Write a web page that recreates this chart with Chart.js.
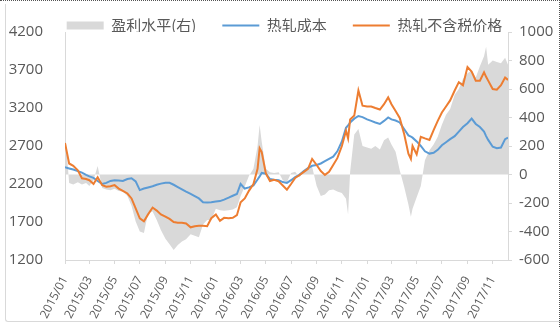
<!DOCTYPE html>
<html>
<head>
<meta charset="utf-8">
<script src="https://cdn.jsdelivr.net/npm/chart.js@4/dist/chart.umd.min.js"></script>
<style>
  html, body { margin: 0; padding: 0; background: #fff; }
  #wrap { position: relative; width: 560px; height: 327px; overflow: hidden; }
  #frame { position: absolute; left: 5px; top: 4px; width: 600px; height: 318px;
           border-left: 1px solid #d9d9d9; border-bottom: 1px solid #d9d9d9;
           border-bottom-left-radius: 3px; box-sizing: border-box; }
  #edge { position: absolute; left: 0; top: 0; width: 560px; height: 327px; box-sizing: border-box;
          border-top: 1px dotted #555; border-right: 1px dotted #555; pointer-events: none; }
  canvas { position: absolute; left: 0; top: 0; }
</style>
</head>
<body>
<div id="wrap">
  <div id="frame"></div>
  <canvas id="chart" width="560" height="327"></canvas>
  <div id="edge"></div>
</div>
<script>
// Hot-rolled coil: cost, ex-tax price (left axis, 元/吨) and profit margin (right axis)
const dates = [
  '2015/01/01','2015/01/11','2015/01/21','2015/02/01','2015/02/11','2015/02/21',
  '2015/03/01','2015/03/11','2015/03/21','2015/04/01','2015/04/11','2015/04/21',
  '2015/05/01','2015/05/11','2015/05/21','2015/06/01','2015/06/11','2015/06/21',
  '2015/07/01','2015/07/11','2015/07/21','2015/08/01','2015/08/11','2015/08/21',
  '2015/09/01','2015/09/11','2015/09/21','2015/10/01','2015/10/11','2015/10/21',
  '2015/11/01','2015/11/11','2015/11/21','2015/12/01','2015/12/11','2015/12/21',
  '2016/01/01','2016/01/11','2016/01/21','2016/02/01','2016/02/11','2016/02/21',
  '2016/03/01','2016/03/11','2016/03/21','2016/04/01','2016/04/11','2016/04/16','2016/04/21',
  '2016/05/01','2016/05/11','2016/05/21','2016/06/01','2016/06/11','2016/06/21',
  '2016/07/01','2016/07/11','2016/07/21','2016/08/01','2016/08/11','2016/08/21',
  '2016/09/01','2016/09/11','2016/09/21','2016/10/01','2016/10/11','2016/10/21',
  '2016/11/01','2016/11/11','2016/11/16','2016/11/21','2016/12/01','2016/12/11','2016/12/21',
  '2017/01/01','2017/01/11','2017/01/21','2017/02/01','2017/02/11','2017/02/21',
  '2017/03/01','2017/03/11','2017/03/21','2017/04/01','2017/04/11','2017/04/17','2017/04/21',
  '2017/05/01','2017/05/11','2017/05/21','2017/06/01','2017/06/11','2017/06/21',
  '2017/07/01','2017/07/11','2017/07/21','2017/08/01','2017/08/11','2017/08/21',
  '2017/09/01','2017/09/11','2017/09/21','2017/10/01','2017/10/11','2017/10/16','2017/10/21',
  '2017/11/01','2017/11/11','2017/11/21','2017/12/01','2017/12/08'
];

// 热轧成本
const cost = [
  2420,2405,2390,2370,2350,2320,
  2300,2280,2240,2200,2215,2240,
  2250,2245,2240,2265,2275,2235,
  2120,2140,2155,2170,2190,2205,
  2215,2215,2190,2160,2130,2100,
  2070,2040,2010,1960,1955,1960,
  1970,1975,1995,2020,2045,2068,
  2200,2140,2155,2180,2260,2300,2345,
  2335,2265,2255,2250,2225,2215,
  2250,2290,2320,2370,2410,2440,
  2450,2470,2500,2530,2560,2630,
  2760,2940,2970,3010,3060,3095,3080,
  3050,3030,3010,2990,3030,3075,
  3050,3035,3010,2920,2840,2825,2810,
  2760,2700,2630,2600,2610,2650,
  2710,2750,2790,2830,2890,2950,
  3000,3060,2990,2950,2890,2830,2780,
  2690,2670,2680,2790,2810
];

// 热轧不含税价格
const price = [
  2740,2470,2440,2380,2275,2265,
  2250,2200,2290,2185,2165,2170,
  2185,2140,2110,2075,2010,1880,
  1748,1710,1800,1890,1850,1800,
  1770,1740,1700,1690,1690,1680,
  1630,1645,1650,1650,1645,1750,
  1800,1715,1755,1750,1755,1790,
  1960,2010,2110,2200,2400,2670,2620,
  2340,2240,2255,2235,2180,2125,
  2200,2280,2315,2360,2400,2530,
  2450,2370,2320,2360,2450,2540,
  2700,2900,2800,3050,3100,3430,3230,
  3220,3220,3200,3180,3250,3340,
  3250,3160,3070,2850,2600,2530,2700,
  2590,2820,2800,2780,2910,3030,
  3140,3220,3300,3430,3540,3500,
  3740,3680,3560,3560,3670,3610,3560,
  3450,3440,3500,3600,3570
];

// 盈利水平(右)
const profit = [
  310,-60,-70,-55,-70,-60,
  -80,-40,60,-95,-105,-110,
  -100,-115,-120,-150,-220,-330,
  -400,-410,-270,-260,-320,-390,
  -450,-490,-530,-495,-470,-455,
  -420,-430,-440,-350,-320,-320,
  -240,-250,-255,-250,-245,-230,
  -150,-85,-10,40,200,347,230,
  40,15,10,15,-40,-55,
  10,20,-20,15,40,55,
  -80,-150,-140,-110,-105,-120,
  -130,-170,-280,20,280,320,200,
  190,180,200,175,240,260,
  210,160,30,-90,-210,-296,-240,
  -160,-80,100,170,210,265,
  350,420,460,560,600,670,
  710,730,680,760,830,897,770,
  800,790,780,820,770
];

const tickLabels = [
  '2015/01','2015/03','2015/05','2015/07','2015/09','2015/11',
  '2016/01','2016/03','2016/05','2016/07','2016/09','2016/11',
  '2017/01','2017/03','2017/05','2017/07','2017/09','2017/11'
];

const dayNumber = s => {
  const [y, m, d] = s.split('/').map(Number);
  return Date.UTC(y, m - 1, d || 1) / 864e5;
};
const xs = dates.map(dayNumber);
const tickValues = tickLabels.map(dayNumber);
const series = vals => xs.map((x, i) => ({ x, y: vals[i] }));

const textColor = '#595959';
const axisColor = '#d9d9d9';
Chart.defaults.font.family = '"Open Sans", "Noto Sans CJK SC", sans-serif';
Chart.defaults.color = textColor;

new Chart(document.getElementById('chart'), {
  type: 'line',
  data: {
    datasets: [
      {
        label: '盈利水平(右)',
        data: series(profit),
        yAxisID: 'y1',
        fill: 'origin',
        backgroundColor: '#d9d9d9',
        borderColor: 'rgba(0,0,0,0)',
        borderWidth: 0,
        pointRadius: 0,
        pointStyle: 'rect',
        pointBackgroundColor: '#d9d9d9',
        pointBorderWidth: 0,
        order: 3
      },
      {
        label: '热轧成本',
        data: series(cost),
        yAxisID: 'y',
        borderColor: '#5b9bd5',
        backgroundColor: '#5b9bd5',
        borderWidth: 2,
        pointRadius: 0,
        pointStyle: 'line',
        pointBorderWidth: 2,
        fill: false,
        order: 2
      },
      {
        label: '热轧不含税价格',
        data: series(price),
        yAxisID: 'y',
        borderColor: '#ed7d31',
        backgroundColor: '#ed7d31',
        borderWidth: 2,
        pointRadius: 0,
        pointStyle: 'line',
        pointBorderWidth: 2,
        fill: false,
        order: 1
      }
    ]
  },
  options: {
    responsive: false,
    animation: false,
    events: [],
    layout: { padding: { top: -8, right: 0, bottom: 5, left: 9 } },
    elements: { line: { tension: 0 } },
    plugins: {
      tooltip: { enabled: false },
      legend: {
        position: 'top',
        maxHeight: 40,
        labels: {
          usePointStyle: true,
          pointStyleWidth: 37,
          boxHeight: 8,
          padding: 26,
          color: textColor,
          font: { family: '"Noto Sans CJK SC", sans-serif', size: 15 },
          sort: (a, b) => a.datasetIndex - b.datasetIndex
        }
      }
    },
    scales: {
      x: {
        type: 'linear',
        min: xs[0],
        max: xs[xs.length - 1],
        afterBuildTicks: scale => { scale.ticks = tickValues.map(value => ({ value })); },
        afterFit: scale => { scale.height = 62; },
        grid: { display: true, drawOnChartArea: false, tickLength: 4, color: axisColor },
        border: { display: true, color: axisColor },
        ticks: {
          autoSkip: false,
          minRotation: 62,
          maxRotation: 62,
          padding: 10,
          color: textColor,
          font: { size: 12 },
          callback: (value, index) => tickLabels[index]
        }
      },
      y: {
        position: 'left',
        min: 1200,
        max: 4200,
        afterFit: scale => { scale.width = 56; },
        grid: { display: false, drawTicks: false, tickLength: 0 },
        border: { display: true, color: axisColor },
        ticks: { stepSize: 500, padding: 22, color: textColor, font: { size: 15 },
                 callback: value => String(value) }
      },
      y1: {
        position: 'right',
        min: -600,
        max: 1000,
        afterFit: scale => { scale.width = 52; },
        grid: { display: true, drawOnChartArea: false, tickLength: 4, color: axisColor },
        border: { display: true, color: axisColor },
        ticks: { stepSize: 200, padding: 7, color: textColor, font: { size: 15 },
                 callback: value => String(value) }
      }
    }
  }
});
</script>
</body>
</html>
